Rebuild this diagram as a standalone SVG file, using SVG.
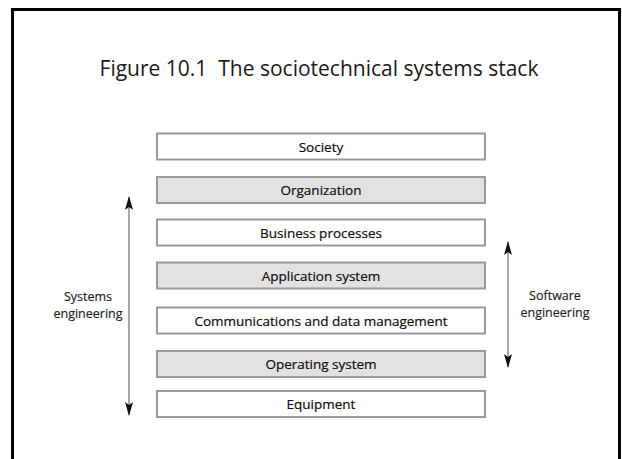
<svg xmlns="http://www.w3.org/2000/svg" width="622" height="459" viewBox="0 0 622 459">
  <style>
    .layer { stroke: #9a9a9a; stroke-width: 2; }
    .plain { fill: #ffffff; }
    .shaded { fill: #e2e2e2; }
    .label { font-family: "Open Sans", "Noto Sans", sans-serif; font-size: 13.5px; font-weight: 500; fill: #0e0e0e; stroke: #0e0e0e; stroke-width: 0.2; text-anchor: middle; }
    .side { font-family: "Open Sans", "Noto Sans", sans-serif; font-size: 12.5px; font-weight: 500; fill: #222; stroke: #222; stroke-width: 0.15; text-anchor: middle; }
    .title { font-family: "Open Sans", "Noto Sans", sans-serif; font-size: 21px; fill: #1a1a1a; text-anchor: middle; white-space: pre; }
    .span { stroke: #8a8a8a; stroke-width: 1.5; fill: none; }
  </style>
  <defs>
    <!-- slim arrowhead drawn along +x, reused for both ends -->
    <marker id="head" viewBox="0 0 14 8" refX="13" refY="4" markerWidth="14" markerHeight="8" markerUnits="userSpaceOnUse" orient="auto-start-reverse">
      <path d="M14,4 L0,0 L3,4 L0,8 Z" fill="#111"/>
    </marker>
  </defs>

  <rect x="0" y="0" width="622" height="459" fill="#ffffff"/>
  <!-- slide frame -->
  <rect x="12.5" y="9.5" width="607" height="460" fill="none" stroke="#000" stroke-width="3"/>

  <text class="title" x="319" y="76" xml:space="preserve">Figure 10.1  The sociotechnical systems stack</text>

  <g id="society">
    <rect class="layer plain" x="157" y="133.5" width="328" height="26"/>
    <text class="label" x="321" y="151.5">Society</text>
  </g>
  <g id="organization">
    <rect class="layer shaded" x="157" y="177" width="328" height="26"/>
    <text class="label" x="321" y="195">Organization</text>
  </g>
  <g id="business-processes">
    <rect class="layer plain" x="157" y="219.5" width="328" height="26"/>
    <text class="label" x="321" y="237.5">Business processes</text>
  </g>
  <g id="application-system">
    <rect class="layer shaded" x="157" y="262.5" width="328" height="26"/>
    <text class="label" x="321" y="280.5">Application system</text>
  </g>
  <g id="communications">
    <rect class="layer plain" x="157" y="307.5" width="328" height="26"/>
    <text class="label" x="321" y="325.5">Communications and data management</text>
  </g>
  <g id="operating-system">
    <rect class="layer shaded" x="157" y="351" width="328" height="26"/>
    <text class="label" x="321" y="369">Operating system</text>
  </g>
  <g id="equipment">
    <rect class="layer plain" x="157" y="391" width="328" height="26"/>
    <text class="label" x="321" y="409">Equipment</text>
  </g>

  <g id="systems-engineering">
    <text class="side" x="88" y="301">Systems</text>
    <text class="side" x="88" y="318">engineering</text>
  </g>
  <g id="software-engineering">
    <text class="side" x="555" y="300">Software</text>
    <text class="side" x="555" y="317">engineering</text>
  </g>

  <g id="connectors">
    <line class="span" x1="129" y1="197" x2="129" y2="415" marker-start="url(#head)" marker-end="url(#head)"/>
    <line class="span" x1="508" y1="242" x2="508" y2="367" marker-start="url(#head)" marker-end="url(#head)"/>
  </g>
</svg>
